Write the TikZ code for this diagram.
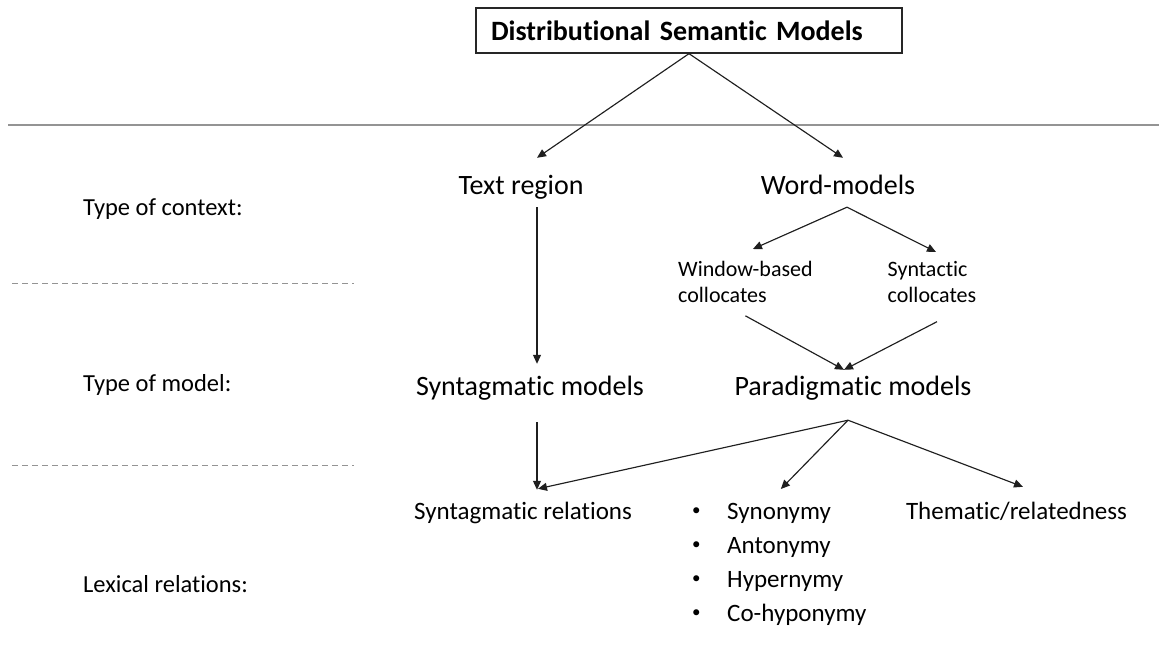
\documentclass[tikz,border=0pt]{standalone}
\usepackage{fontspec}
\setmainfont{Carlito}[Ligatures={NoCommon}]
\usetikzlibrary{arrows.meta}
\newcommand{\listdot}{\makebox[42pt][l]{\hspace{7pt}\raisebox{3.5pt}{\fontsize{17}{17}\selectfont\textbullet}}}
\begin{document}
\begin{tikzpicture}[x=1pt,y=-1pt,
  arr/.style={draw=black!88, line width=1.15pt, -{Triangle[length=9pt,width=8pt]}},
  rule/.style={draw=black!42, line width=1.4pt},
  dashrule/.style={draw=black!42, line width=1pt, dash pattern=on 6pt off 4pt},
  main/.style={font=\fontsize{28}{34}\selectfont, inner sep=0pt, text height=20pt, text depth=6pt, anchor=base},
  side/.style={font=\fontsize{24.5}{30}\selectfont, inner sep=0pt, anchor=base west},
  small/.style={font=\fontsize{22}{26}\selectfont, inner sep=0pt, align=left, anchor=north west},
  rel/.style={font=\fontsize{25}{34}\selectfont, inner sep=0pt, text height=18pt, text depth=6pt, anchor=base},
  listing/.style={font=\fontsize{25}{34}\selectfont, inner sep=0pt, align=left, anchor=north west},
  title/.style={draw=black!85, line width=1.3pt, font=\bfseries\fontsize{28}{34}\selectfont,
    minimum height=45pt, inner xsep=15pt, inner ysep=0pt, text width=396pt, align=left},
]
\useasboundingbox (0,0) rectangle (1159,651);

% separators between the levels
\draw[rule] (8,125) -- (1159,125);
\draw[dashrule] (12,283) -- (354,283);
\draw[dashrule] (12,465) -- (354,465);

% row labels
\node[side] (lc) at (83,215) {Type of context:};
\node[side] (lm) at (83,391) {Type of model:};
\node[side] (lr) at (83,592) {Lexical relations:};

% tree of models
\node[title] (dsm) at (689,30.5) {Distributional Semantic Models};
\node[main] (tr) at (521,194) {Text region};
\node[main] (wm) at (838,194) {Word-models};
\node[small] (wb) at (678,261) {Window-based\\collocates};
\node[small] (sy) at (887.5,261) {Syntactic\\collocates};
\node[main] (sm) at (530,395) {Syntagmatic models};
\node[main] (pm) at (853,395) {Paradigmatic models};
\node[rel] (sr) at (523,519) {Syntagmatic relations};
\node[listing] (lst) at (685,503) {\listdot Synonymy\\
  \listdot Antonymy\\
  \listdot Hypernymy\\
  \listdot Co-hyponymy};
\node[rel] (th) at (1016.5,519) {Thematic/relatedness};

% connectors
\coordinate (wmfork) at ([xshift=9pt,yshift=-7pt]wm.south);
\coordinate (pmfan) at ([xshift=-5pt,yshift=-19pt]pm.south);
\draw[arr] (dsm.south) -- ([xshift=16pt,yshift=16pt]tr.north);
\draw[arr] (dsm.south) -- ([xshift=5pt,yshift=16pt]wm.north);
\draw[arr] ([xshift=16pt,yshift=-7pt]tr.south) -- ([xshift=7pt,yshift=11pt]sm.north);
\draw[arr] (wmfork) -- ([xshift=7.5pt,yshift=12pt]wb.north);
\draw[arr] (wmfork) -- ([xshift=4pt,yshift=9pt]sy.north);
\draw[arr] ([yshift=-13pt]wb.south) -- ([xshift=-9pt,yshift=5pt]pm.north);
\draw[arr] ([xshift=5pt,yshift=-19pt]sy.south) -- ([xshift=-9pt,yshift=5pt]pm.north);
\draw[arr] ([xshift=7pt,yshift=-21pt]sm.south) -- ([xshift=14pt,yshift=11pt]sr.north);
\draw[arr] (pmfan) -- ([xshift=15pt,yshift=12pt]sr.north);
\draw[arr] (pmfan) -- ([xshift=5pt,yshift=14pt]lst.north);
\draw[arr] (pmfan) -- ([xshift=6.5pt,yshift=14pt]th.north);
\end{tikzpicture}
\end{document}
